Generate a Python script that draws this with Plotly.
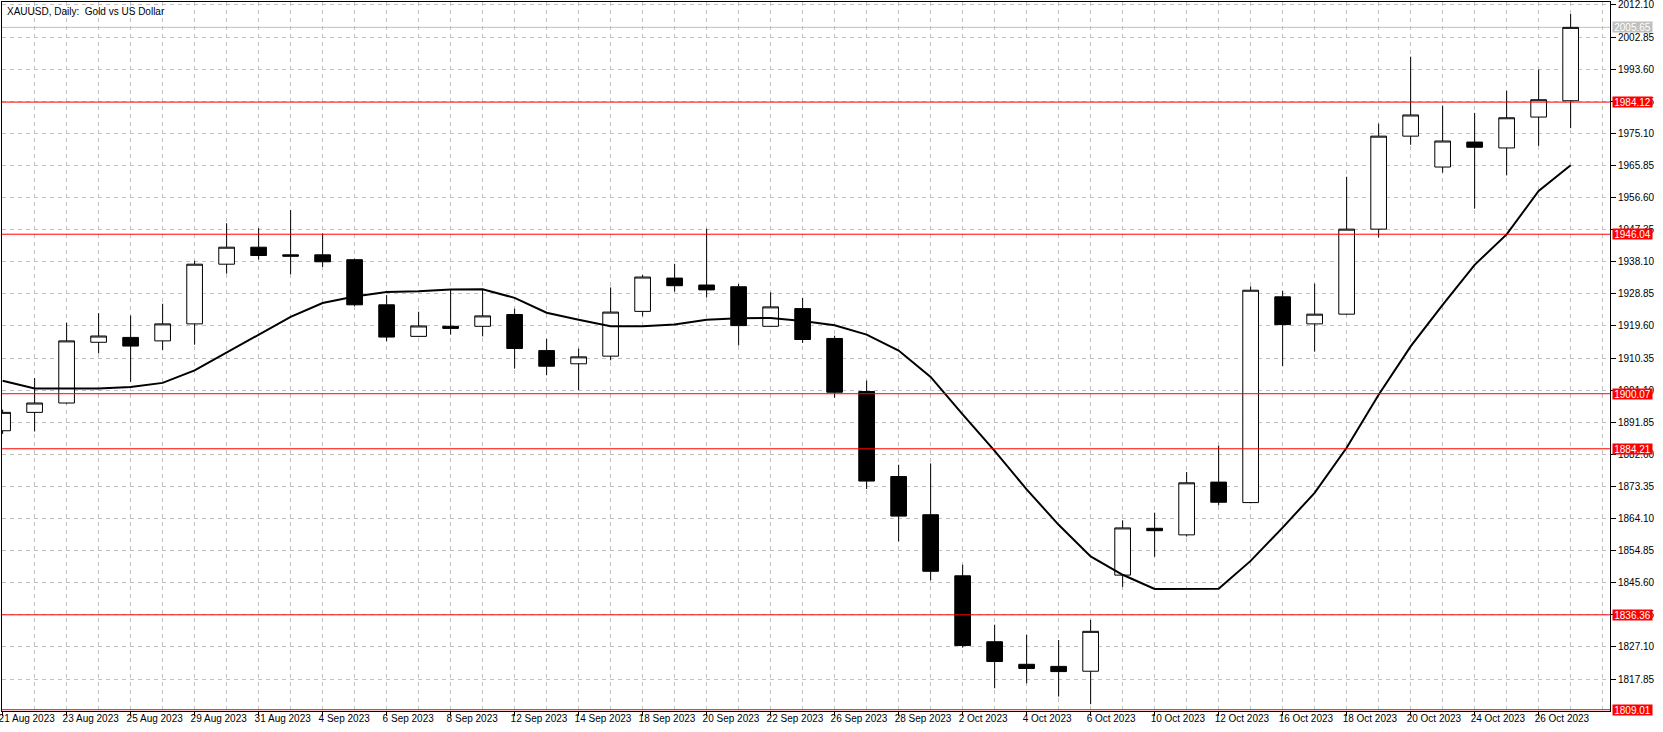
import plotly.graph_objects as go

dates = ["21 Aug 2023", "22 Aug 2023", "23 Aug 2023", "24 Aug 2023", "25 Aug 2023",
         "28 Aug 2023", "29 Aug 2023", "30 Aug 2023", "31 Aug 2023", "1 Sep 2023",
         "4 Sep 2023", "5 Sep 2023", "6 Sep 2023", "7 Sep 2023", "8 Sep 2023",
         "11 Sep 2023", "12 Sep 2023", "13 Sep 2023", "14 Sep 2023", "15 Sep 2023",
         "18 Sep 2023", "19 Sep 2023", "20 Sep 2023", "21 Sep 2023", "22 Sep 2023",
         "25 Sep 2023", "26 Sep 2023", "27 Sep 2023", "28 Sep 2023", "29 Sep 2023",
         "2 Oct 2023", "3 Oct 2023", "4 Oct 2023", "5 Oct 2023", "6 Oct 2023",
         "9 Oct 2023", "10 Oct 2023", "11 Oct 2023", "12 Oct 2023", "13 Oct 2023",
         "16 Oct 2023", "17 Oct 2023", "18 Oct 2023", "19 Oct 2023", "20 Oct 2023",
         "23 Oct 2023", "24 Oct 2023", "25 Oct 2023", "26 Oct 2023", "27 Oct 2023"]

opens = [1889.4, 1894.7, 1897.4, 1914.9, 1916.3, 1915.3, 1920.2, 1937.4, 1942.3, 1940.1,
         1940.1, 1938.7, 1925.7, 1916.6, 1919.5, 1919.5, 1922.9, 1912.5, 1908.7, 1910.9,
         1923.8, 1933.4, 1931.4, 1930.9, 1919.5, 1924.6, 1916.0, 1900.7, 1876.2, 1865.2,
         1847.6, 1828.6, 1822.1, 1821.5, 1820.1, 1847.8, 1861.3, 1859.4, 1874.6, 1868.7,
         1928.0, 1920.2, 1923.0, 1947.5, 1974.3, 1965.4, 1972.6, 1970.9, 1979.8, 1984.5]
highs = [1895.5, 1904.6, 1920.5, 1923.3, 1922.6, 1926.0, 1938.4, 1949.2, 1947.8, 1953.0,
         1946.3, 1939.0, 1928.5, 1923.7, 1930.2, 1930.3, 1924.6, 1915.9, 1913.1, 1930.7,
         1934.3, 1937.5, 1947.6, 1931.7, 1929.3, 1927.7, 1916.8, 1903.9, 1879.6, 1880.0,
         1850.8, 1833.5, 1830.6, 1829.1, 1834.9, 1863.6, 1865.8, 1877.5, 1885.1, 1931.0,
         1929.7, 1931.8, 1962.6, 1977.9, 1997.2, 1983.1, 1981.0, 1987.4, 1993.5, 2009.5]
lows = [1888.5, 1889.2, 1897.2, 1911.7, 1903.5, 1912.6, 1914.2, 1934.7, 1938.7, 1934.5,
        1936.6, 1925.3, 1915.2, 1916.4, 1917.1, 1916.6, 1907.3, 1905.4, 1901.1, 1909.7,
        1922.4, 1929.5, 1927.8, 1914.0, 1919.3, 1914.7, 1898.9, 1872.6, 1857.5, 1846.3,
        1826.9, 1815.2, 1816.6, 1812.8, 1810.6, 1844.4, 1853.1, 1858.9, 1867.9, 1868.5,
        1908.0, 1912.2, 1922.8, 1945.1, 1971.8, 1963.8, 1953.4, 1963.0, 1971.5, 1976.6]
closes = [1894.7, 1897.4, 1915.3, 1916.7, 1913.8, 1920.2, 1937.4, 1942.3, 1939.9, 1939.7,
          1938.1, 1925.7, 1916.4, 1919.6, 1918.9, 1922.5, 1913.1, 1908.0, 1910.7, 1923.6,
          1933.7, 1931.2, 1930.0, 1919.7, 1925.1, 1915.7, 1900.5, 1874.9, 1864.8, 1848.9,
          1827.5, 1822.9, 1820.9, 1820.0, 1831.6, 1861.4, 1860.6, 1874.4, 1868.8, 1929.9,
          1920.0, 1923.0, 1947.5, 1974.3, 1980.4, 1972.9, 1971.1, 1979.6, 1984.8, 2005.65]
ma_values = [1903.8, 1901.6, 1901.6, 1901.6, 1902.0, 1903.2, 1906.8, 1911.9, 1917.1, 1922.2,
             1926.2, 1928.1, 1929.4, 1929.6, 1930.1, 1930.2, 1927.7, 1923.4, 1921.4, 1919.5,
             1919.5, 1920.0, 1921.4, 1921.8, 1921.9, 1921.0, 1919.8, 1917.1, 1912.5, 1904.9,
             1894.1, 1883.6, 1872.5, 1862.3, 1853.2, 1847.9, 1843.8, 1843.8, 1843.9, 1851.9,
             1861.5, 1871.5, 1884.5, 1899.8, 1913.7, 1925.7, 1937.2, 1946.0, 1958.5, 1965.9]

red_levels = [1984.12, 1946.04, 1900.07, 1884.21, 1836.36, 1809.01]
bid_level = 2005.65

y_ticks = [2012.10, 2002.85, 1993.60, 1984.35, 1975.10, 1965.85, 1956.60, 1947.35,
           1938.10, 1928.85, 1919.60, 1910.35, 1901.10, 1891.85, 1882.60, 1873.35,
           1864.10, 1854.85, 1845.60, 1836.35, 1827.10, 1817.85]

title_text = "XAUUSD, Daily:  Gold vs US Dollar"

x = list(range(len(dates)))
FONT = "Liberation Sans"
FS = 10
GRID = "#C0C0C0"

fig = go.Figure()
fig.add_trace(go.Candlestick(
    x=x, open=opens, high=highs, low=lows, close=closes,
    increasing=dict(fillcolor="white", line=dict(color="black", width=1)),
    decreasing=dict(fillcolor="black", line=dict(color="black", width=1)),
    hoverinfo="skip", showlegend=False,
))
fig.add_trace(go.Scatter(
    x=x, y=ma_values, mode="lines", line=dict(color="black", width=2),
    hoverinfo="skip", showlegend=False,
))

shapes = []
annotations = []
for lv in red_levels:
    shapes.append(dict(type="line", xref="paper", x0=0, x1=1, yref="y", y0=lv, y1=lv,
                       line=dict(color="#FF0000", width=1), layer="above"))
    annotations.append(dict(xref="paper", x=1, xanchor="left", xshift=2, yref="y", y=lv,
                            yanchor="middle", text=f"{lv:.2f}", showarrow=False,
                            bgcolor="#FF0000", font=dict(color="white", size=FS, family=FONT),
                            width=39, height=10, borderpad=0))
shapes.append(dict(type="line", xref="paper", x0=0, x1=1, yref="y", y0=bid_level, y1=bid_level,
                   line=dict(color="#C0C0C0", width=1), layer="below"))
annotations.append(dict(xref="paper", x=1, xanchor="left", xshift=2, yref="y", y=bid_level,
                        yanchor="middle", text=f"{bid_level:.2f}", showarrow=False,
                        bgcolor="#C0C0C0", font=dict(color="white", size=FS, family=FONT),
                        width=39, height=10, borderpad=0))
annotations.append(dict(xref="paper", x=0, xanchor="left", xshift=3, yref="paper", y=1,
                        yanchor="top", yshift=-2, text=title_text.replace("  ", " \u00a0"),
                        showarrow=False, font=dict(color="black", size=FS, family=FONT)))

fig.update_layout(
    template="none",
    width=1663, height=732,
    margin=dict(l=2, r=53, t=2, b=21, pad=0),
    paper_bgcolor="white", plot_bgcolor="white",
    font=dict(family=FONT, size=FS, color="black"),
    shapes=shapes, annotations=annotations,
    showlegend=False, hovermode=False,
    xaxis=dict(
        automargin=False,
        range=[-0.019, 50.23], rangeslider=dict(visible=False),
        tickmode="array", tickvals=x[::2], ticktext=dates[::2], tickangle=0,
        ticks="outside", ticklen=4, tickcolor="black", tickwidth=1,
        ticklabelposition="outside right", ticklabelshift=-5, ticklabelstandoff=-2,
        ticklabeloverflow="allow",
        showgrid=True, gridcolor=GRID, griddash="4px,4px", gridwidth=1,
        minor=dict(tickmode="linear", tick0=0, dtick=1, showgrid=True, gridcolor=GRID,
                   griddash="4px,4px", gridwidth=1, ticks=""),
        showline=True, linecolor="black", linewidth=1, mirror=True, zeroline=False,
        tickfont=dict(size=FS, family=FONT, color="black"),
    ),
    yaxis=dict(
        automargin=False,
        side="right", range=[1808.64, 2012.96],
        tickmode="array", tickvals=y_ticks, ticktext=[f"{v:.2f}" for v in y_ticks],
        ticks="outside", ticklen=5, tickcolor="black", tickwidth=1,
        ticklabeloverflow="allow",
        showgrid=True, gridcolor=GRID, griddash="4px,4px", gridwidth=1,
        showline=True, linecolor="black", linewidth=1, mirror=True, zeroline=False,
        tickfont=dict(size=FS, family=FONT, color="black"),
    ),
)

fig.write_html("out.html", config={"displayModeBar": False},
               post_script="document.body.style.margin='0';document.body.style.overflow='hidden';")
